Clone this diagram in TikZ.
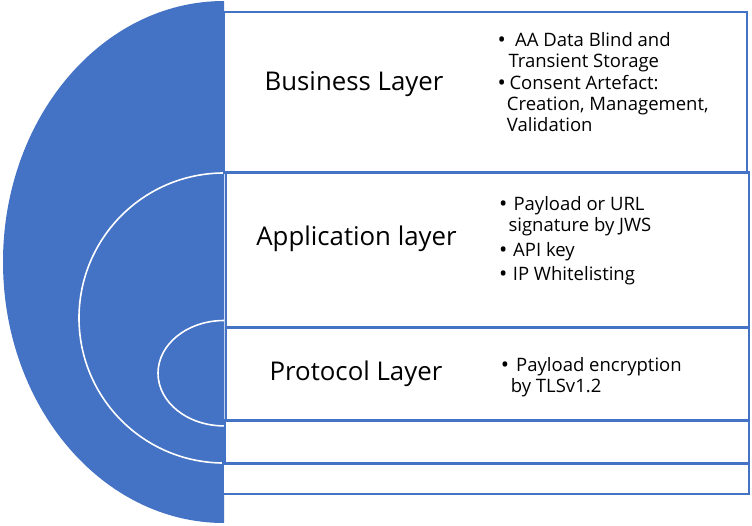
\documentclass[tikz,border=0pt]{standalone}
\usepackage{fontspec}
\setmainfont{Open Sans}
\definecolor{lblue}{HTML}{4472C4}
\begin{document}
\begin{tikzpicture}[x=1pt,y=-1pt,
  layerbox/.style={draw=lblue,line width=2.2pt,fill=white},
  ring/.style={draw=white,line width=1.6pt,fill=lblue},
  title/.style={font=\fontsize{25.8}{30}\selectfont,anchor=base,inner sep=0pt},
  item/.style={font=\fontsize{18.5}{21}\selectfont,anchor=base west,inner sep=0pt},
  bul/.style={font=\fontsize{22}{24}\selectfont,anchor=base,inner sep=0pt}]
\useasboundingbox (0,0) rectangle (752,525);
% big half-ellipse
\fill[lblue] (224,1) arc[start angle=90,end angle=270,x radius=221pt,y radius=261pt] -- cycle;
% middle ring
\path[ring] (224,173) arc[start angle=90,end angle=270,x radius=145pt,y radius=145pt];
% inner ring
\path[ring] (224,320.5) arc[start angle=90,end angle=270,x radius=66pt,y radius=52.7pt];
% boxes
\draw[layerbox] (223,463.5) rectangle (749,494);
\draw[layerbox] (225,420.5) rectangle (749,463.5);
\draw[layerbox] (226,327.5) rectangle (749,420.5);
\draw[layerbox] (226,172.5) rectangle (749,327.5);
\draw[layerbox] (224,12) rectangle (747,172.5);
% titles
\node[title] (t1) at (354,90) {Business Layer};
\node[title] (t2) at (356.5,245) {Application layer};
\node[title] (t3) at (356,380) {Protocol Layer};
% business bullets
\node[bul] (b1) at (501.7,47.7) {•};
\node[item] (l1) at (515,46.7) {AA Data Blind and};
\node[item] (l2) at (508.3,67.7) {Transient Storage};
\node[bul] (b2) at (501.7,90) {•};
\node[item] (l3) at (509.3,89) {Consent Artefact:};
\node[item] (l4) at (506.7,110.7) {Creation, Management,};
\node[item] (l5) at (506.7,131.7) {Validation};
% application bullets
\node[bul] (b3) at (503.3,211) {•};
\node[item] (m1) at (513.3,210) {Payload or URL};
\node[item] (m2) at (508.3,231.7) {signature by JWS};
\node[bul] (b4) at (503.3,257) {•};
\node[item] (m3) at (513,256) {API key};
\node[bul] (b5) at (503.3,281.7) {•};
\node[item] (m4) at (512.7,280.7) {IP Whitelisting};
% protocol bullets
\node[bul] (b6) at (505,372.7) {•};
\node[item] (p1) at (516,371.7) {Payload encryption};
\node[item] (p2) at (510.7,392.7) {by TLSv1.2};
\end{tikzpicture}
\end{document}
